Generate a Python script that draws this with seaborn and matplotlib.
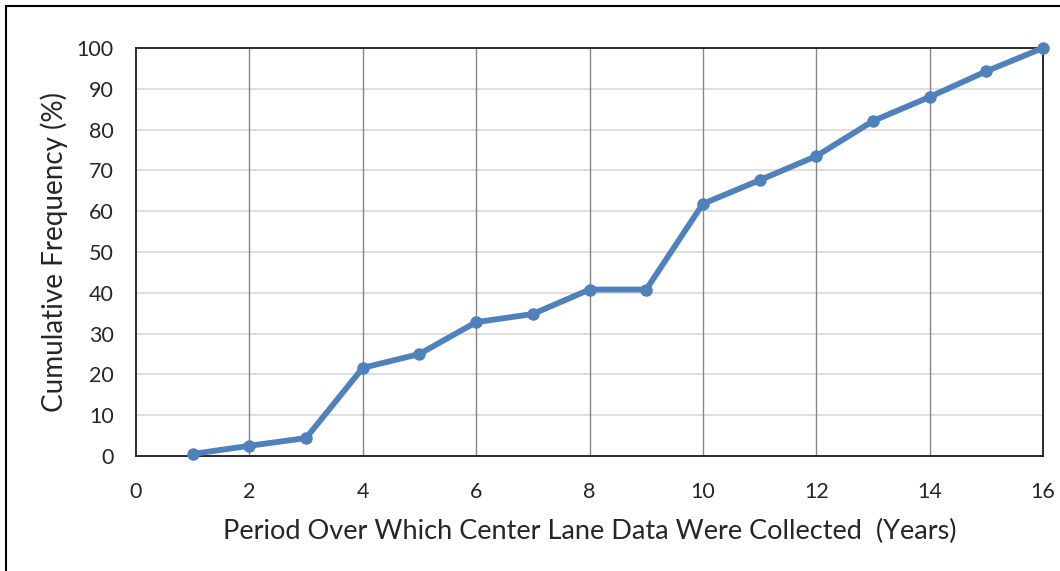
import matplotlib
matplotlib.use("Agg")
import matplotlib.pyplot as plt
import seaborn as sns
import pandas as pd
from matplotlib.lines import Line2D

years = [1, 2, 3, 4, 5, 6, 7, 8, 9, 10, 11, 12, 13, 14, 15, 16]
cum_freq = [0.5, 2.5, 4.4, 21.6, 25.0, 32.8, 34.8, 40.8, 40.8, 61.8, 67.6, 73.5, 82.1, 88.0, 94.3, 100.0]
x_ticks = [0, 2, 4, 6, 8, 10, 12, 14, 16]
y_ticks = [0, 10, 20, 30, 40, 50, 60, 70, 80, 90, 100]
x_label = "Period Over Which Center Lane Data Were Collected  (Years)"
y_label = "Cumulative Frequency (%)"

df = pd.DataFrame({"year": years, "freq": cum_freq})

sns.set_theme(style="white")
plt.rcParams["font.family"] = ["Lato", "DejaVu Sans"]

fig = plt.figure(figsize=(10.6, 5.71), dpi=100)
W, H = 1060, 571
ax = fig.add_axes([136 / W, 1 - 456 / H, (1043 - 136) / W, (456 - 48) / H])

ax.set_xlim(0, 16)
ax.set_ylim(0, 100)
ax.set_xticks(x_ticks)
ax.set_yticks(y_ticks)

for y in y_ticks[1:-1]:
    ax.axhline(y, color="#d9d9d9", lw=1.2, zorder=0)
for x in x_ticks[1:-1]:
    ax.axvline(x, color="#868686", lw=1.0, zorder=0)

sns.lineplot(data=df, x="year", y="freq", ax=ax, color="#4f81bd", lw=4.2,
             marker="o", markersize=9, markeredgewidth=0, zorder=3, clip_on=False)

for s in ax.spines.values():
    s.set_color("#1a1a1a")
    s.set_linewidth(1.3)
    s.set_visible(True)

ax.tick_params(axis="both", length=0, labelsize=15.5, colors="#262626")
ax.tick_params(axis="x", pad=19)
ax.tick_params(axis="y", pad=16)
ax.set_xlabel(x_label, fontsize=19.5, color="#262626", labelpad=12)
ax.set_ylabel(y_label, fontsize=20, color="#262626", labelpad=6)

# outer chart border (left and top visible)
fig.add_artist(Line2D([6 / W, 6 / W], [0, 1 - 6 / H], color="black", lw=1.5, transform=fig.transFigure))
fig.add_artist(Line2D([6 / W, 1], [1 - 6 / H, 1 - 6 / H], color="black", lw=1.5, transform=fig.transFigure))

fig.savefig("out.png", dpi=100)
